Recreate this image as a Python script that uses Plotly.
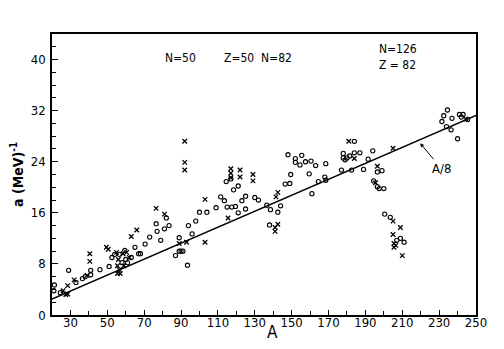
import plotly.graph_objects as go

# level density parameter a (MeV^-1) against mass number A
# open circles
CIRC_A = [21.3, 21.0, 24.5, 29.0, 33.0, 36.5, 38.0, 41.0, 41.0, 46.0, 51.0,
          52.5, 54.0, 56.5, 58.0, 59.5, 60.0, 61.0, 63.0, 65.0, 67.0, 68.0,
          70.5, 73.0, 76.5, 77.0, 79.0, 81.0, 82.0, 83.5, 87.0, 89.0, 90.0,
          91.0, 89.0, 93.5, 94.0, 96.0, 98.0, 100.0, 104.0, 109.0, 111.5,
          113.5, 115.0, 117.5, 114.5, 117.0, 118.5, 121.0, 121.0, 119.5,
          123.0, 125.0, 125.0, 130.0, 132.0, 136.5, 138.5, 138.0, 144.0,
          142.5, 146.5, 149.0, 149.5, 148.0, 152.0, 152.0, 154.5, 155.5,
          157.5, 159.5, 160.5, 163.0, 161.0, 164.5, 168.0, 168.5, 168.5,
          177.0, 178.0, 184.0, 178.0, 180.0, 181.5, 184.0, 187.0, 179.0,
          182.5, 189.0, 191.5, 194.0, 196.5, 199.0, 194.5, 196.5, 197.5,
          200.0, 200.5, 203.5, 209.0, 211.0, 207.0, 232.5, 234.5, 241.0,
          242.0, 243.0, 231.5, 237.0, 234.0, 236.5, 240.0, 245.5]
CIRC_a = [4.7, 3.8, 3.5, 7.0, 5.1, 5.7, 6.0, 7.0, 6.3, 7.1, 7.6,
          9.0, 9.5, 9.5, 8.2, 10.1, 8.7, 8.2, 9.0, 10.6, 9.6, 9.6,
          11.1, 12.2, 14.3, 13.1, 11.7, 13.5, 15.2, 14.0, 9.3, 10.0, 10.0,
          10.0, 12.1, 7.8, 14.0, 12.7, 14.7, 16.1, 16.1, 16.8, 18.5,
          17.9, 16.9, 16.9, 20.9, 21.3, 19.6, 20.2, 16.0, 17.0,
          17.9, 18.6, 16.6, 18.4, 18.0, 17.2, 16.5, 14.1, 17.1,
          16.1, 20.5, 20.6, 22.0, 25.1, 24.5, 23.9, 23.5, 25.0,
          24.0, 22.1, 24.1, 23.4, 19.0, 20.9, 21.6, 23.7, 21.1,
          22.7, 25.3, 27.2, 24.6, 24.6, 24.9, 25.4, 25.4, 24.3,
          22.7, 22.8, 24.4, 25.7, 22.4, 22.6, 21.0, 20.1, 19.8,
          19.8, 15.8, 15.3, 12.0, 11.4, 11.7, 31.2, 32.1, 31.4,
          31.0, 31.4, 30.3, 30.8, 29.5, 29.0, 27.6, 30.6]

# crosses
CROSS_A = [26.0, 27.5, 28.5, 28.5, 32.0, 39.0, 40.5, 40.5, 49.5, 50.5,
           55.0, 56.0, 55.5, 56.5, 55.5, 57.0, 58.5, 60.5, 59.0, 62.0,
           63.0, 66.0, 76.5, 81.0, 89.0, 92.0, 92.0, 92.0, 93.0, 103.0,
           103.0, 115.5, 117.0, 117.0, 117.0, 122.0, 122.0, 129.0, 129.0,
           142.5, 141.0, 141.0, 141.5, 142.5, 181.0, 184.0, 196.5, 195.5,
           205.0, 205.0, 209.0, 205.0, 205.5, 206.5, 205.5, 210.0, 244.5]
CROSS_a = [3.8, 3.2, 3.3, 4.6, 5.5, 6.2, 9.6, 8.4, 10.6, 10.3,
           9.8, 8.7, 7.7, 7.1, 6.5, 6.5, 9.6, 9.8, 7.7, 9.0,
           12.3, 13.3, 16.7, 15.8, 11.2, 27.2, 23.9, 22.7, 11.4, 18.1,
           11.4, 15.2, 21.5, 22.2, 22.9, 22.7, 21.6, 22.0, 21.0,
           14.2, 13.7, 13.1, 18.5, 19.2, 27.2, 24.5, 23.3, 20.7,
           26.1, 14.7, 13.7, 12.6, 11.2, 10.9, 10.6, 9.3, 30.7]

# reference line a = A/8
LINE_A = [20, 250]
LINE_a = [2.5, 31.25]

X_TICKS = [30, 50, 70, 90, 110, 130, 150, 170, 190, 210, 230, 250]
Y_TICKS = [0, 8, 16, 24, 32, 40]

FONT = "DejaVu Sans Condensed, Liberation Sans Narrow, Arial Narrow, sans-serif"

fig = go.Figure()

fig.add_trace(go.Scatter(
    x=LINE_A, y=LINE_a, mode="lines",
    line=dict(color="black", width=1.3),
    showlegend=False, hoverinfo="skip",
))
fig.add_trace(go.Scatter(
    x=CIRC_A, y=CIRC_a, mode="markers",
    marker=dict(symbol="circle-open", size=4.2, color="black",
                line=dict(width=1.1, color="black")),
    showlegend=False,
))
fig.add_trace(go.Scatter(
    x=CROSS_A, y=CROSS_a, mode="markers",
    marker=dict(symbol="x-thin", size=4.5, color="black",
                line=dict(width=1.3, color="black")),
    showlegend=False,
))

ann_font = dict(family=FONT, size=12, color="black")
fig.add_annotation(x=89.5, y=40.2, text="N=50", showarrow=False, font=ann_font)
fig.add_annotation(x=132, y=40.2, text="Z=50  N=82", showarrow=False, font=ann_font)
fig.add_annotation(x=207.5, y=40.4, text="N=126<br>Z = 82", showarrow=False,
                   font=ann_font, align="left")
fig.add_annotation(x=219.7, y=26.9, text="A/8", showarrow=True,
                   ax=21, ay=25, arrowhead=2, arrowsize=0.8, arrowwidth=1,
                   arrowcolor="black", font=dict(family=FONT, size=13, color="black"))
# x-axis title placed by hand so it sits just under the tick labels
fig.add_annotation(x=0.52, y=-0.06, xref="paper", yref="paper", text="A",
                   showarrow=False, yanchor="middle",
                   font=dict(family=FONT, size=17, color="black"))

fig.update_xaxes(
    range=[20, 250], tickvals=X_TICKS, ticks="inside", ticklen=5,
    tickcolor="black", showline=True, linecolor="black", linewidth=1.5,
    mirror=True, showgrid=False, zeroline=False, automargin=False,
    minor=dict(dtick=10, tick0=20, ticks="inside", ticklen=4, tickcolor="black"),
    tickfont=dict(family=FONT, size=13, color="black"),
    ticklabelstandoff=-5,
)
fig.update_yaxes(
    range=[0, 44], tickvals=Y_TICKS, ticks="inside", ticklen=6,
    tickcolor="black", showline=True, linecolor="black", linewidth=1.5,
    mirror=True, showgrid=False, zeroline=False, automargin=False,
    minor=dict(dtick=2, tick0=0, ticks="inside", ticklen=4, tickcolor="black"),
    tickfont=dict(family=FONT, size=13, color="black"),
    ticklabelstandoff=2,
    title=dict(text="<b>a (MeV)<sup>-1</sup></b>",
               font=dict(family=FONT, size=14, color="black"), standoff=4),
)

fig.update_layout(
    width=504, height=349,
    margin=dict(l=44, r=36, t=26, b=42),
    paper_bgcolor="white", plot_bgcolor="white",
)

fig.write_html("out.html")
